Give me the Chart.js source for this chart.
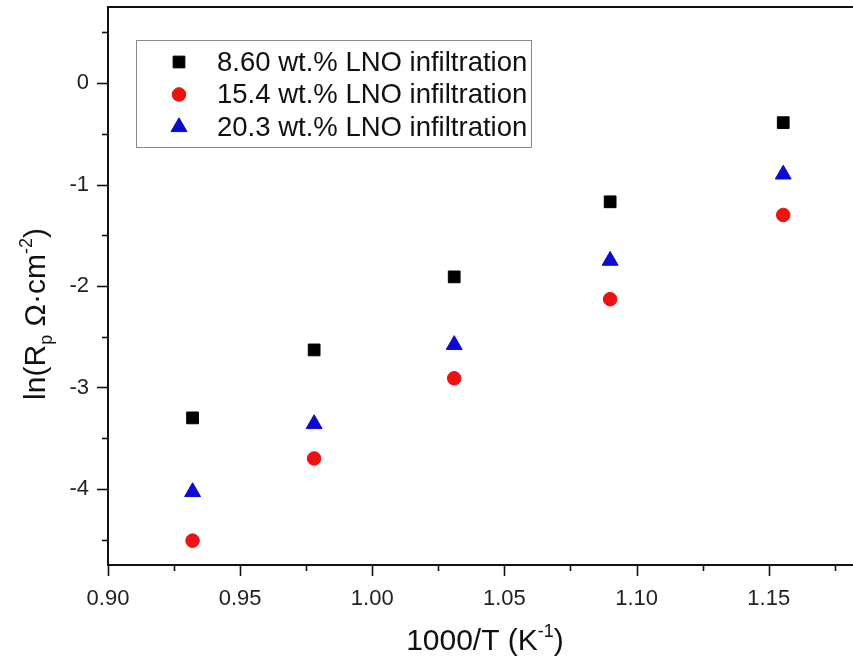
<!DOCTYPE html>
<html>
<head>
<meta charset="utf-8">
<script src="https://cdn.jsdelivr.net/npm/chart.js@4/dist/chart.umd.min.js"></script>
<style>
  body { margin: 0; background: #fff; overflow: hidden; }
  #wrap { width: 853px; height: 660px; overflow: hidden; }
  #arrChart { margin-top: -4px; display: block; }
</style>
</head>
<body>
<div id="wrap"><canvas id="arrChart" width="864" height="664"></canvas></div>
<script>
// 1000/T values (K^-1), shared by all three series
const invTemp = [0.932, 0.978, 1.031, 1.090, 1.1555];

// ln(Rp) values
const lno860 = [-3.30, -2.63, -1.91, -1.17, -0.39];
const lno154 = [-4.51, -3.70, -2.91, -2.13, -1.30];
const lno203 = [-4.03, -3.36, -2.58, -1.75, -0.90];

const seriesNames = ['8.60 wt.% LNO infiltration', '15.4 wt.% LNO infiltration', '20.3 wt.% LNO infiltration'];

// tick positions (major + minor); only majors get labels
const xTicks = [0.900, 0.925, 0.950, 0.975, 1.000, 1.025, 1.050, 1.075, 1.100, 1.125, 1.150, 1.175];
const yTicks = [-4.5, -4.0, -3.5, -3.0, -2.5, -2.0, -1.5, -1.0, -0.5, 0.0, 0.5];

const FONT = '"Liberation Sans", Arial, Helvetica, sans-serif';
const OFF = 4; // canvas is shifted up by this much

function toPoints(ys) {
    return invTemp.map((x, i) => ({ x: x, y: ys[i] }));
}

function nearMultiple(v, step) {
    const k = Math.round(v / step);
    return Math.abs(v - k * step) < 1e-6;
}

function fixAxis(size, key) {
    return s => {
        s[key] = size;
        s.paddingTop = 0;
        s.paddingBottom = 0;
        s.paddingLeft = 0;
        s.paddingRight = 0;
    };
}

// draws major/minor ticks outward, the top frame line, and the axis titles
const axesDeco = {
    id: 'axesDeco',
    afterDraw(chart) {
        const ctx = chart.ctx;
        const area = chart.chartArea;
        const xs = chart.scales.x;
        const ys = chart.scales.y;
        ctx.save();
        ctx.strokeStyle = '#111';
        ctx.lineWidth = 1.6;

        xs.ticks.forEach(t => {
            const major = nearMultiple(t.value, 0.05);
            const px = Math.round(xs.getPixelForValue(t.value)) + 0.5;
            ctx.beginPath();
            ctx.moveTo(px, area.bottom);
            ctx.lineTo(px, area.bottom + (major ? 11 : 6));
            ctx.stroke();
        });
        ys.ticks.forEach(t => {
            const major = nearMultiple(t.value, 1);
            const py = Math.round(ys.getPixelForValue(t.value)) + 0.5;
            ctx.beginPath();
            ctx.moveTo(area.left, py);
            ctx.lineTo(area.left - (major ? 11 : 6), py);
            ctx.stroke();
        });

        // top frame line
        ctx.lineWidth = 2;
        ctx.beginPath();
        ctx.moveTo(area.left, area.top);
        ctx.lineTo(area.right, area.top);
        ctx.stroke();

        // x title: 1000/T (K^-1)
        ctx.fillStyle = '#111';
        ctx.textBaseline = 'alphabetic';
        const big = '30px ' + FONT;
        const small = '18px ' + FONT;
        const xParts = [['1000/T (K', big, 0], ['-1', small, -13], [')', big, 0]];
        let w = 0;
        xParts.forEach(p => { ctx.font = p[1]; w += ctx.measureText(p[0]).width; });
        let cx = 485 - w / 2;
        xParts.forEach(p => {
            ctx.font = p[1];
            ctx.fillText(p[0], cx, 650 + OFF + p[2]);
            cx += ctx.measureText(p[0]).width;
        });

        // y title: ln(Rp Ω·cm^-2), rotated
        const yParts = [['ln(R', big, 0], ['p', small, 7], [' \u03A9\u00B7cm', big, 0], ['-2', small, -13], [')', big, 0]];
        w = 0;
        yParts.forEach(p => { ctx.font = p[1]; w += ctx.measureText(p[0]).width; });
        ctx.translate(45, 314 + OFF);
        ctx.rotate(-Math.PI / 2);
        cx = -w / 2;
        yParts.forEach(p => {
            ctx.font = p[1];
            ctx.fillText(p[0], cx, p[2]);
            cx += ctx.measureText(p[0]).width;
        });
        ctx.restore();
    }
};

// boxed legend inside the plot, upper left
const boxLegend = {
    id: 'boxLegend',
    afterDraw(chart) {
        const ctx = chart.ctx;
        ctx.save();
        ctx.strokeStyle = '#8a8a8a';
        ctx.lineWidth = 1;
        ctx.strokeRect(136.5, 40.5 + OFF, 395, 107);
        ctx.font = '27.5px ' + FONT;
        ctx.textBaseline = 'middle';
        chart.data.datasets.forEach((ds, i) => {
            const yRow = 62 + OFF + i * 32.5;
            ctx.fillStyle = ds.backgroundColor;
            ctx.strokeStyle = ds.borderColor;
            ctx.lineWidth = 1;
            if (Chart.helpers && Chart.helpers.drawPoint) {
                Chart.helpers.drawPoint(ctx, {
                    pointStyle: ds.pointStyle,
                    radius: ds.pointRadius,
                    rotation: 0,
                    borderWidth: 1
                }, 179, yRow);
            }
            ctx.fillStyle = '#111';
            ctx.fillText(ds.label, 217, yRow + 1);
        });
        ctx.restore();
    }
};

const ctx = document.getElementById('arrChart').getContext('2d');
new Chart(ctx, {
    type: 'scatter',
    data: {
        datasets: [
            {
                label: seriesNames[0],
                data: toPoints(lno860),
                pointStyle: 'rect',
                pointRadius: 8.3,
                backgroundColor: '#000000',
                borderColor: '#000000',
                pointBorderWidth: 1
            },
            {
                label: seriesNames[1],
                data: toPoints(lno154),
                pointStyle: 'circle',
                pointRadius: 6.8,
                backgroundColor: '#ee1111',
                borderColor: '#ee1111',
                pointBorderWidth: 1
            },
            {
                label: seriesNames[2],
                data: toPoints(lno203),
                pointStyle: 'triangle',
                pointRadius: 9.2,
                backgroundColor: '#0a0ad0',
                borderColor: '#0a0ad0',
                pointBorderWidth: 1
            }
        ]
    },
    options: {
        responsive: false,
        animation: false,
        layout: { padding: { top: 11, right: 0, left: 0, bottom: 0 } },
        plugins: {
            legend: { display: false },
            tooltip: { enabled: false }
        },
        scales: {
            x: {
                type: 'linear',
                min: 0.90,
                max: 1.1822,
                afterBuildTicks: s => { s.ticks = xTicks.map(v => ({ value: v })); },
                afterFit: fixAxis(95, 'height'),
                border: { display: true, color: '#111', width: 2 },
                grid: { display: false, drawTicks: false },
                ticks: {
                    autoSkip: false,
                    maxRotation: 0,
                    padding: 21,
                    color: '#222',
                    font: { family: FONT, size: 22 },
                    callback: v => nearMultiple(v, 0.05) ? v.toFixed(2) : ''
                }
            },
            y: {
                type: 'linear',
                min: -4.75,
                max: 0.75,
                afterBuildTicks: s => { s.ticks = yTicks.map(v => ({ value: v })); },
                afterFit: fixAxis(108, 'width'),
                border: { display: true, color: '#111', width: 2 },
                grid: { display: false, drawTicks: false },
                ticks: {
                    autoSkip: false,
                    padding: 19,
                    color: '#222',
                    font: { family: FONT, size: 22 },
                    callback: v => nearMultiple(v, 1) ? String(Math.round(v)) : ''
                }
            }
        }
    },
    plugins: [axesDeco, boxLegend]
});
</script>
</body>
</html>
